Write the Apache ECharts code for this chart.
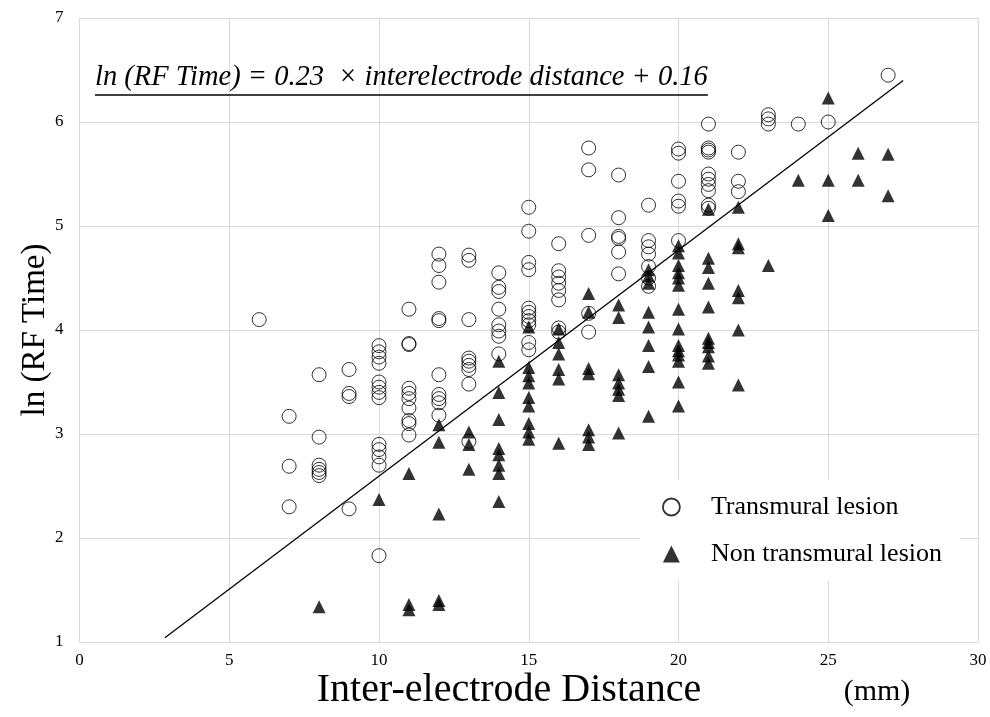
<!DOCTYPE html>
<html>
<head>
<meta charset="utf-8">
<script src="https://cdn.jsdelivr.net/npm/echarts@6/dist/echarts.min.js"></script>
<style>
html,body{margin:0;padding:0;background:#fff;}
#chart{width:990px;height:717px;}
</style>
</head>
<body>
<div id="chart"></div>
<script>
// ---- data ----
var xTicks = [0, 5, 10, 15, 20, 25, 30];
var yTicks = [1, 2, 3, 4, 5, 6, 7];
var seriesNames = ['Transmural lesion', 'Non transmural lesion'];
var transmuralPoints = [
  [6,4.10],
  [7,3.17],[7,2.69],[7,2.30],
  [8,3.57],[8,2.97],[8,2.70],[8,2.66],[8,2.63],[8,2.60],
  [9,3.62],[9,3.39],[9,3.36],[9,2.28],
  [10,3.85],[10,3.79],[10,3.74],[10,3.68],[10,3.50],[10,3.45],[10,3.40],[10,3.35],[10,2.90],[10,2.85],[10,2.78],[10,2.70],[10,1.83],
  [11,4.20],[11,3.87],[11,3.86],[11,3.44],[11,3.39],[11,3.34],[11,3.25],[11,3.13],[11,3.10],[11,2.99],
  [12,4.73],[12,4.62],[12,4.46],[12,4.11],[12,4.09],[12,3.57],[12,3.38],[12,3.34],[12,3.30],[12,3.18],
  [13,4.72],[13,4.67],[13,4.10],[13,3.73],[13,3.70],[13,3.66],[13,3.62],[13,3.48],[13,2.93],
  [14,4.55],[14,4.41],[14,4.37],[14,4.20],[14,4.05],[14,3.99],[14,3.94],[14,3.77],
  [15,5.18],[15,4.95],[15,4.65],[15,4.58],[15,4.21],[15,4.17],[15,4.13],[15,4.09],[15,4.05],[15,3.88],[15,3.81],
  [16,4.83],[16,4.57],[16,4.51],[16,4.45],[16,4.38],[16,4.29],[16,4.02],[16,3.98],
  [17,5.75],[17,5.54],[17,4.91],[17,4.16],[17,3.98],
  [18,5.49],[18,5.08],[18,4.90],[18,4.88],[18,4.75],[18,4.54],
  [19,5.20],[19,4.86],[19,4.80],[19,4.73],[19,4.61],[19,4.50],[19,4.42],
  [20,5.74],[20,5.70],[20,5.43],[20,5.24],[20,5.19],[20,4.86],
  [21,5.98],[21,5.75],[21,5.73],[21,5.71],[21,5.50],[21,5.45],[21,5.40],[21,5.34],[21,5.20],[21,5.17],
  [22,5.71],[22,5.43],[22,5.33],
  [23,6.07],[23,6.03],[23,5.98],
  [24,5.98],
  [25,6.00],
  [27,6.45]
];
var nonTransmuralPoints = [
  [8,1.34],
  [10,2.37],
  [11,2.62],[11,1.36],[11,1.31],
  [12,3.09],[12,2.92],[12,2.23],[12,1.40],[12,1.36],
  [13,3.02],[13,2.90],[13,2.66],
  [14,3.70],[14,3.40],[14,3.14],[14,2.86],[14,2.80],[14,2.70],[14,2.62],[14,2.35],
  [15,4.03],[15,3.64],[15,3.56],[15,3.49],[15,3.35],[15,3.27],[15,3.10],[15,3.02],[15,2.95],
  [16,4.01],[16,3.88],[16,3.77],[16,3.62],[16,3.53],[16,2.91],
  [17,4.35],[17,4.17],[17,3.63],[17,3.58],[17,3.04],[17,2.97],[17,2.90],
  [18,4.24],[18,4.12],[18,3.57],[18,3.49],[18,3.43],[18,3.37],[18,3.01],
  [19,4.58],[19,4.52],[19,4.45],[19,4.17],[19,4.03],[19,3.85],[19,3.65],[19,3.17],
  [20,4.81],[20,4.74],[20,4.62],[20,4.55],[20,4.50],[20,4.43],[20,4.20],[20,4.01],[20,3.85],[20,3.80],[20,3.76],[20,3.70],[20,3.50],[20,3.27],
  [21,5.16],[21,4.69],[21,4.60],[21,4.45],[21,4.22],[21,3.92],[21,3.88],[21,3.84],[21,3.75],[21,3.68],
  [22,5.18],[22,4.83],[22,4.79],[22,4.38],[22,4.31],[22,4.00],[22,3.47],
  [23,4.62],
  [24,5.44],
  [25,6.23],[25,5.44],[25,5.10],
  [26,5.70],[26,5.44],
  [27,5.69],[27,5.29]
];
var fitLine = [[2.85, 1.04], [27.5, 6.40]];
var equationText = 'ln (RF Time) = 0.23  \u00D7 interelectrode distance + 0.16';
var xAxisTitle = 'Inter-electrode Distance';
var xAxisUnit = '(mm)';
var yAxisTitle = 'ln (RF Time)';

// ---- chart ----
var SERIF = '"Liberation Serif", "Times New Roman", serif';
var chart = echarts.init(document.getElementById('chart'), null, {renderer: 'canvas'});

var eqFont = 'italic 28.5px ' + SERIF;
var ctx = document.createElement('canvas').getContext('2d');
ctx.font = eqFont;
var eqWidth = ctx.measureText(equationText).width;
var eqLeft = 95, eqTop = 63;

var option = {
  animation: false,
  backgroundColor: '#fff',
  grid: {left: 79.5, right: 12, top: 18, bottom: 75, containLabel: false},
  xAxis: {
    type: 'value', min: xTicks[0], max: xTicks[xTicks.length - 1], interval: 5,
    axisLine: {show: false}, axisTick: {show: false},
    splitLine: {show: true, lineStyle: {color: '#d9d9d9', width: 1}},
    axisLabel: {color: '#000', fontFamily: SERIF, fontSize: 17, margin: 10}
  },
  yAxis: {
    type: 'value', min: yTicks[0], max: yTicks[yTicks.length - 1], interval: 1,
    axisLine: {show: false}, axisTick: {show: false},
    splitLine: {show: true, lineStyle: {color: '#d9d9d9', width: 1}},
    axisLabel: {color: '#000', fontFamily: SERIF, fontSize: 17, margin: 16},
    name: yAxisTitle, nameLocation: 'middle', nameRotate: 90, nameGap: 28,
    nameMoveOverlap: false,
    nameTextStyle: {color: '#000', fontFamily: SERIF, fontSize: 33}
  },
  legend: {
    orient: 'vertical', left: 640, top: 480,
    padding: [14, 18, 14, 22],
    backgroundColor: '#fff',
    itemGap: 21, itemWidth: 17, itemHeight: 17,
    textStyle: {color: '#000', fontFamily: SERIF, fontSize: 26, padding: [0, 0, 0, 26]},
    data: [
      {name: seriesNames[0], icon: 'circle', itemStyle: {color: '#fff', borderColor: '#000', borderWidth: 1.8}},
      {name: seriesNames[1], icon: 'triangle', itemStyle: {color: '#000', borderWidth: 0}}
    ]
  },
  graphic: [
    {type: 'text', left: eqLeft, top: eqTop, z: 10,
     style: {text: equationText, font: eqFont, fill: '#000'}},
    {type: 'line', z: 10, shape: {x1: eqLeft, y1: eqTop + 32, x2: eqLeft + eqWidth, y2: eqTop + 32},
     style: {stroke: '#000', lineWidth: 1.3}},
    {type: 'text', x: 509, y: 690, z: 10,
     style: {text: xAxisTitle, font: '40px ' + SERIF, fill: '#000', textAlign: 'center', textVerticalAlign: 'middle'}},
    {type: 'text', x: 877, y: 692, z: 10,
     style: {text: xAxisUnit, font: '30px ' + SERIF, fill: '#000', textAlign: 'center', textVerticalAlign: 'middle'}}
  ],
  series: [
    {
      name: seriesNames[0], type: 'scatter', data: transmuralPoints,
      symbol: 'circle', symbolSize: 14, z: 3,
      itemStyle: {color: 'rgba(255,255,255,0)', borderColor: '#000', borderWidth: 1},
      emphasis: {disabled: true}
    },
    {
      name: seriesNames[1], type: 'scatter', data: nonTransmuralPoints,
      symbol: 'triangle', symbolSize: 13, z: 4,
      itemStyle: {color: '#000'},
      emphasis: {disabled: true}
    },
    {
      name: 'fit', type: 'line', data: fitLine, showSymbol: false, symbol: 'none', z: 2,
      lineStyle: {color: '#000', width: 1.3}, silent: true
    }
  ]
};
chart.setOption(option);
</script>
</body>
</html>
